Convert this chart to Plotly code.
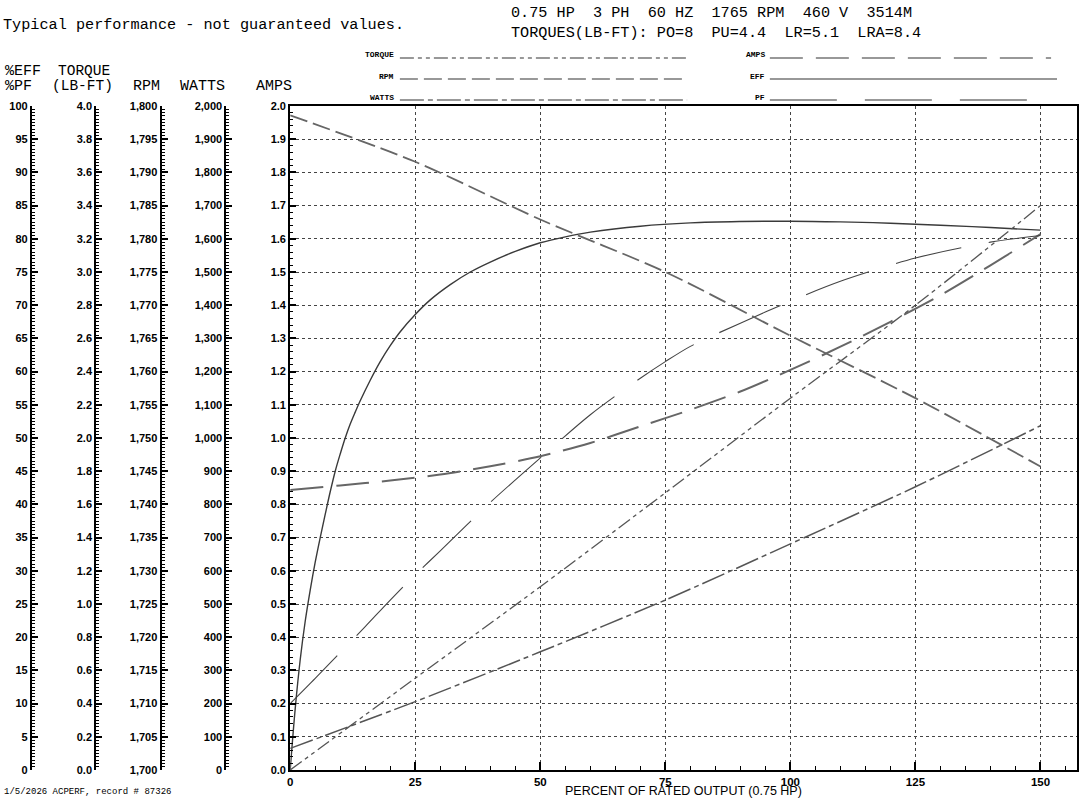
import plotly.graph_objects as go

# ---------------- data ----------------
load_eff = [0, 1, 2, 3, 4, 5, 6, 7, 8, 9, 10, 11, 12, 13, 14, 16, 18, 20, 22, 25, 28, 32, 36, 40, 45,
            50, 55, 60, 70, 80, 90, 100, 110, 120, 130, 140, 150]
eff = [0, 9.2, 16.6, 22.4, 27.1, 31.3, 35.0, 38.5, 41.9, 45.0, 47.6, 50.0, 52.1, 53.9, 55.6, 58.7, 61.5,
       63.9, 66.0, 68.6, 70.8, 73.1, 75.0, 76.5, 78.1, 79.4, 80.3, 81.0, 81.9, 82.4, 82.6, 82.65, 82.55,
       82.35, 82.05, 81.7, 81.3]

load_pf = [0, 5, 10, 15, 20, 25, 30, 40, 50, 60, 70, 75, 80, 90, 100, 110, 125, 140, 150]
pf = [10, 13.8, 17.7, 21.6, 25.6, 29.4, 33, 40.3, 47, 53.5, 59, 61.5, 63.8, 67.3, 70.6, 73.6, 77.1, 79.5, 80.5]

load_amps = [0, 10, 20, 30, 40, 50, 60, 70, 80, 90, 100, 110, 120, 130, 140, 150]
amps = [0.843, 0.857, 0.872, 0.89, 0.915, 0.945, 0.985, 1.035, 1.085, 1.14, 1.205, 1.275, 1.35, 1.43, 1.52, 1.614]

load_pts = [0, 25, 50, 75, 100, 125, 150]
rpm = [1798.6, 1791.6, 1782.9, 1775.0, 1765.4, 1756.0, 1745.7]
watts = [65, 206, 356, 512, 681, 853, 1037]
torque = [0.0, 0.553, 1.104, 1.67, 2.24, 2.80, 3.40]

x_ticks = [0, 25, 50, 75, 100, 125, 150]

header_1 = "0.75 HP  3 PH  60 HZ  1765 RPM  460 V  3514M"
header_2 = "TORQUES(LB-FT): PO=8  PU=4.4  LR=5.1  LRA=8.4"
note = "Typical performance - not guaranteed values."
footer = "1/5/2026 ACPERF, record # 87326"
x_title = "PERCENT OF RATED OUTPUT (0.75 HP)"

# ---------------- layout geometry ----------------
W, H = 1084, 799
PL, PR, PT, PB = 288, 1077, 106, 770   # plot area in pixels
PAPER_W = PR                            # left margin 0, right margin W-PR


def px(x):
    return x / PAPER_W


def py(y):
    return (PB - y) / (PB - PT)


MONO = "Liberation Mono"
SANS = "Liberation Sans"

# dash patterns
D_TORQUE = "14px,4px,4px,4px,4px,4px"
D_RPM = "18px,6px"
D_WATTS = "24px,4px,5px,4px"
D_AMPS = "33px,13px"
D_PF = "67px,28px"

fig = go.Figure()

fig.add_trace(go.Scatter(x=load_amps, y=amps, yaxis="y", mode="lines", line_shape="spline",
                         line=dict(color="#666666", width=2, dash=D_AMPS, smoothing=0.8), name="AMPS"))
fig.add_trace(go.Scatter(x=load_pts, y=rpm, yaxis="y4", mode="lines", line_shape="spline",
                         line=dict(color="#666666", width=1.8, dash=D_RPM, smoothing=0.8), name="RPM"))
fig.add_trace(go.Scatter(x=load_pts, y=watts, yaxis="y5", mode="lines", line_shape="spline",
                         line=dict(color="#555555", width=1.5, dash=D_WATTS, smoothing=0.8), name="WATTS"))
fig.add_trace(go.Scatter(x=load_pts, y=torque, yaxis="y3", mode="lines", line_shape="spline",
                         line=dict(color="#555555", width=1.3, dash=D_TORQUE, smoothing=0.8), name="TORQUE"))
fig.add_trace(go.Scatter(x=load_pf, y=pf, yaxis="y2", mode="lines", line_shape="spline",
                         line=dict(color="#444444", width=1.1, dash=D_PF, smoothing=0.8), name="PF"))
fig.add_trace(go.Scatter(x=load_eff, y=eff, yaxis="y2", mode="lines", line_shape="spline",
                         line=dict(color="#3a3a3a", width=1.4, smoothing=1.0), name="EFF"))

tickfont = dict(family=SANS, size=11, color="black", weight="bold")


def side_axis(rng, dtick, minor_dtick, fmt, pos):
    return dict(range=rng, dtick=dtick, tick0=rng[0], tickformat=fmt, anchor="free",
                overlaying="y", side="left", position=pos, showgrid=False, zeroline=False,
                showline=True, linecolor="black", linewidth=2, ticks="inside", ticklen=6,
                tickwidth=1.5, tickcolor="black",
                minor=dict(ticks="inside", ticklen=3, tickwidth=1, tickcolor="black",
                           dtick=minor_dtick, showgrid=False),
                tickfont=tickfont, fixedrange=True)


fig.update_layout(
    width=W, height=H,
    margin=dict(l=0, r=W - PR, t=PT, b=H - PB),
    paper_bgcolor="white", plot_bgcolor="white",
    showlegend=False,
    xaxis=dict(domain=[px(PL), 1], range=[0, 157.3], tickvals=x_ticks, showgrid=True,
               griddash="dot", gridcolor="#444444", gridwidth=1, zeroline=False,
               showline=True, linecolor="black", linewidth=2, mirror=True,
               ticks="inside", ticklen=8, tickwidth=1.5, tickcolor="black",
               minor=dict(ticks="inside", ticklen=4, tickwidth=1, tickcolor="black",
                          dtick=5, showgrid=False),
               tickfont=dict(family=SANS, size=11.5, color="black", weight="bold"),
               fixedrange=True),
    yaxis=dict(range=[0, 2], dtick=0.1, tick0=0, tickformat=".1f", anchor="x",
               showgrid=True, griddash="dot", gridcolor="#444444", gridwidth=1,
               zeroline=False, showline=True, linecolor="black", linewidth=2, mirror=True,
               ticks="inside", ticklen=6, tickwidth=1.5, tickcolor="black",
               minor=dict(ticks="inside", ticklen=3, tickwidth=1, tickcolor="black",
                          dtick=0.02, showgrid=False),
               tickfont=tickfont, fixedrange=True),
    yaxis2=side_axis([0, 100], 5, 0.5, "d", px(28)),
    yaxis3=side_axis([0, 4], 0.2, 0.02, ".1f", px(92.5)),
    yaxis4=side_axis([1700, 1800], 5, 0.5, ",d", px(158)),
    yaxis5=side_axis([0, 2000], 100, 10, ",d", px(223)),
)

annotations = []


def text(t, x, y, size, family=MONO, xanchor="left", color="black", weight="normal"):
    annotations.append(dict(text=t, x=px(x), y=py(y), xref="paper", yref="paper",
                            xanchor=xanchor, yanchor="middle", showarrow=False,
                            font=dict(family=family, size=size, color=color, weight=weight)))


text(note, -2, 25, 15.2)
text(header_1, 507, 13, 15.2)
text(header_2, 507, 33, 15.2)
text("%EFF", 0, 71, 15)
text("TORQUE", 53, 71, 14.5)
text("%PF", 0, 86, 15)
text("(LB-FT)", 47, 86, 14.5)
text("RPM", 128, 86, 15)
text("WATTS", 175, 86, 15)
text("AMPS", 252, 86, 15)
text(footer, -1, 792, 9)
annotations.append(dict(text=x_title, x=px(682), y=py(799), xref="paper", yref="paper",
                        xanchor="center", yanchor="bottom", showarrow=False, borderpad=0,
                        font=dict(family=SANS, size=12.5, color="black")))

# legend keys
legend_left = [("TORQUE", 57, D_TORQUE, 686), ("RPM", 78, D_RPM, 686), ("WATTS", 99, D_WATTS, 686)]
legend_right = [("AMPS", 57, D_AMPS, 1051), ("EFF", 78, "solid", 1057), ("PF", 99, D_PF, 1036)]
shapes = []
for (name, y, dash, xend), x0, xl in [(l, 398, 394) for l in legend_left] + [(r, 769, 766) for r in legend_right]:
    text(name, xl, y - 2, 8, family=MONO, xanchor="right", weight="bold")
    shapes.append(dict(type="line", xref="paper", yref="paper", x0=px(x0), x1=px(xend),
                       y0=py(y + 1), y1=py(y + 1), line=dict(color="#333333", width=1.2, dash=dash)))

fig.update_layout(annotations=annotations, shapes=shapes)

fig.write_html("out.html", config={"displayModeBar": False},
               post_script="document.body.style.margin='0';")
